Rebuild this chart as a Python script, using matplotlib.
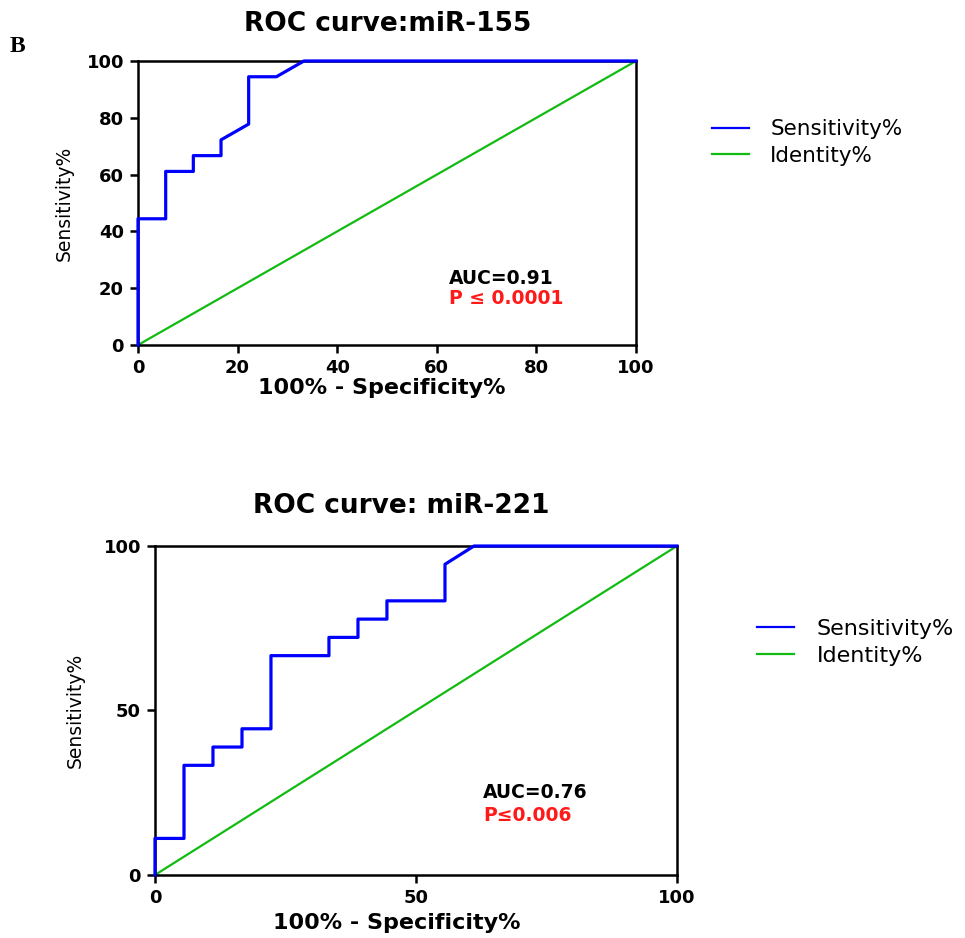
import matplotlib
matplotlib.use('Agg')
from matplotlib import pyplot as plt

# ROC points (100% - specificity, sensitivity)
fpr_155 = [0, 0, 5.56, 5.56, 11.11, 11.11, 16.67, 16.67, 22.22, 22.22, 27.78, 33.33, 100]
tpr_155 = [0, 44.44, 44.44, 61.11, 61.11, 66.67, 66.67, 72.22, 77.78, 94.44, 94.44, 100, 100]

fpr_221 = [0, 0, 5.56, 5.56, 11.11, 11.11, 16.67, 16.67, 22.22, 22.22, 33.33, 33.33,
           38.89, 38.89, 44.44, 44.44, 55.56, 55.56, 61.11, 100]
tpr_221 = [0, 11.11, 11.11, 33.33, 33.33, 38.89, 38.89, 44.44, 44.44, 66.67, 66.67, 72.22,
           72.22, 77.78, 77.78, 83.33, 83.33, 94.44, 100, 100]

identity = [0, 100]
ticks_155 = [0, 20, 40, 60, 80, 100]
ticks_221 = [0, 50, 100]

BLUE = '#0000ff'
GREEN = '#11bb11'

fig = plt.figure(figsize=(9.65, 9.38), dpi=100)


def roc_panel(ax, fpr, tpr, ticks, auc_txt, p_txt, txt_xy, xlab_x, ylab_x):
    ax.plot(fpr, tpr, color=BLUE, lw=2.3, label='Sensitivity%', clip_on=False, zorder=3)
    ax.plot(identity, identity, color=GREEN, lw=1.6, label='Identity%', clip_on=False, zorder=2)
    ax.set_xlim(0, 100)
    ax.set_ylim(0, 100)
    ax.set_xticks(ticks)
    ax.set_yticks(ticks)
    for s in ax.spines.values():
        s.set_linewidth(1.8)
    ax.tick_params(direction='out', length=6, width=1.8, labelsize=13, pad=4)
    for lab in ax.get_xticklabels() + ax.get_yticklabels():
        lab.set_fontweight('bold')
    ax.set_xlabel('100% - Specificity%', fontsize=16, fontweight='bold')
    ax.set_ylabel('Sensitivity%', fontsize=13.5)
    ax.xaxis.set_label_coords(xlab_x, -0.115)
    ax.yaxis.set_label_coords(ylab_x, 0.5)
    ax.text(txt_xy[0], txt_xy[1], auc_txt, fontsize=13.5, fontweight='bold', va='center')
    ax.text(txt_xy[0], txt_xy[1] - 7, p_txt, fontsize=13.5, fontweight='bold',
            color='#ff1a1a', va='center')


def roc_legend(ax, x, y, size):
    leg = ax.legend(loc='center left', bbox_to_anchor=(x, y), bbox_transform=fig.transFigure,
                    frameon=False, fontsize=size, handlelength=1.7, handletextpad=1.0,
                    labelspacing=0.3, borderpad=0, borderaxespad=0)
    for h in leg.get_lines():
        h.set_linewidth(1.6)


ax1 = fig.add_axes([0.1430, 0.6322, 0.5161, 0.3028])
roc_panel(ax1, fpr_155, tpr_155, ticks_155, 'AUC=0.91', 'P \u2264 0.0001', (62.5, 23.5),
          0.49, -0.13)
roc_legend(ax1, 0.738, 0.848, 15.5)

ax2 = fig.add_axes([0.1606, 0.0672, 0.5409, 0.3507])
roc_panel(ax2, fpr_221, tpr_221, ticks_221, 'AUC=0.76', 'P\u22640.006', (62.8, 25.0),
          0.463, -0.134)
roc_legend(ax2, 0.784, 0.315, 16)

fig.text(0.402, 0.9744, 'ROC curve:miR-155', fontsize=19, fontweight='bold',
         ha='center', va='center')
fig.text(0.4155, 0.4606, 'ROC curve: miR-221', fontsize=19, fontweight='bold',
         ha='center', va='center')
fig.text(0.010, 0.950, 'B', fontsize=17, fontweight='bold', family='Liberation Serif',
         ha='left', va='center')

fig.savefig('out.png', dpi=100)
